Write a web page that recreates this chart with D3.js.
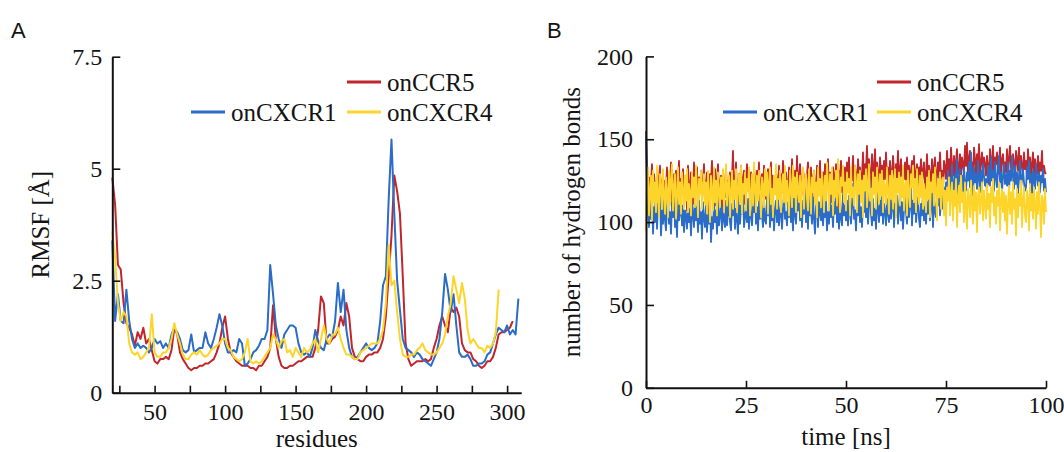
<!DOCTYPE html>
<html><head><meta charset="utf-8">
<script src="https://cdn.jsdelivr.net/npm/d3@7"></script>
<style>
body{margin:0;background:#fff}
svg{display:block}
text{font-family:"Liberation Serif","DejaVu Serif","Noto Serif","Times New Roman",serif;fill:#141414}
</style>
</head><body>
<svg id="c" width="1064" height="452"></svg>
<script>
const SERIF = '"Liberation Serif","DejaVu Serif","Noto Serif","Times New Roman",serif';
// ---------- Panel A: RMSF per residue ----------
const residues = d3.range(20, 309, 2); // 20,22,...,308
const rmsfCCR5 = [
 4.8,4.2,2.85,2.75,2.0,1.55,1.45,1.3,1.05,1.35,
 1.2,1.45,1.1,1.2,0.95,0.7,0.65,0.75,0.75,0.8,
 0.75,0.95,1.45,1.3,0.9,0.75,0.65,0.55,0.5,0.55,
 0.55,0.6,0.6,0.65,0.65,0.7,0.75,0.9,1.1,1.45,
 1.7,1.2,0.9,0.8,0.7,0.65,0.6,0.6,0.6,0.55,
 0.55,0.5,0.6,0.6,0.7,0.8,1.0,1.95,1.2,0.8,
 0.6,0.55,0.55,0.6,0.6,0.65,0.7,0.7,0.75,0.8,
 0.8,0.8,1.0,1.4,2.15,2.0,1.1,1.1,1.2,1.25,
 1.4,1.7,1.5,2.0,1.7,1.0,0.8,0.75,0.7,0.7,
 0.8,0.85,0.85,0.9,0.9,1.0,1.2,1.7,2.6,3.5,
 4.85,4.5,4.0,2.6,1.1,0.75,0.6,0.65,0.7,0.7,
 0.7,0.75,0.7,0.75,1.0,1.2,1.5,1.7,1.5,1.35,
 1.9,1.8,1.9,1.7,1.1,0.95,0.9,0.9,0.75,0.7,
 0.6,0.55,0.6,0.7,0.7,0.8,1.0,1.3,1.35,1.35,
 1.4,1.45,1.6,null,null];
const rmsfCXCR1 = [
 3.4,1.6,2.2,1.6,1.55,2.3,1.6,1.2,1.0,1.1,
 1.0,1.05,1.0,0.9,1.0,1.2,1.1,1.15,1.0,1.1,
 1.0,1.3,1.45,1.35,1.2,0.95,0.9,0.95,1.3,0.9,
 0.95,1.0,1.0,1.35,1.1,1.0,1.2,1.45,1.75,1.5,
 1.1,0.9,0.9,0.95,0.9,1.2,1.1,0.6,0.65,0.75,
 0.9,0.95,1.05,1.2,1.2,1.4,2.85,2.2,1.5,1.2,
 1.0,1.3,1.4,1.5,1.5,1.45,1.1,0.9,0.85,0.9,
 0.8,1.0,1.4,1.15,1.0,0.95,1.2,1.3,1.25,1.6,
 2.45,1.8,2.3,1.4,1.0,0.8,0.75,0.8,0.9,1.0,
 1.1,1.0,0.95,1.0,1.1,1.6,2.4,2.6,4.3,5.65,
 4.0,2.5,1.85,1.2,1.0,0.95,0.9,0.8,0.9,0.85,
 0.75,0.7,0.65,0.6,0.75,0.9,1.2,1.8,2.65,2.3,
 1.8,2.2,1.5,0.9,0.8,0.8,0.85,0.75,0.6,0.6,
 0.65,0.65,0.7,0.85,0.9,1.1,1.3,1.45,1.4,1.35,
 1.5,1.3,1.4,1.3,2.1];
const rmsfCXCR4 = [
 3.6,3.0,2.0,1.6,1.8,1.7,1.1,0.9,0.85,0.9,
 0.75,0.8,0.9,1.0,1.75,0.9,0.8,0.8,0.9,0.9,
 1.0,1.2,1.55,1.3,1.1,0.85,0.75,0.75,0.85,0.9,
 0.85,0.95,0.85,0.8,0.85,0.95,1.0,1.05,1.1,1.2,
 1.2,1.0,0.95,0.8,0.75,0.7,0.75,0.9,1.2,0.7,
 0.65,0.7,0.65,0.7,0.8,0.9,1.0,1.3,1.2,1.0,
 1.15,1.2,0.9,0.95,0.8,1.0,0.9,0.8,1.0,0.9,
 0.95,1.1,1.2,0.9,1.2,1.5,1.2,1.1,1.3,1.3,
 1.45,1.2,1.0,0.85,0.85,0.8,0.75,0.75,0.9,0.95,
 1.0,1.05,1.1,1.1,1.1,1.2,1.4,2.0,3.3,2.4,
 2.5,1.8,1.2,0.85,0.8,0.8,0.85,0.85,0.95,1.0,
 1.1,0.95,0.9,0.85,0.85,0.9,1.0,1.1,1.3,1.7,
 2.0,2.6,2.3,2.0,2.45,2.1,1.4,1.1,1.2,1.1,
 1.0,1.0,0.9,1.05,1.0,1.1,1.35,2.3,null,null,
 null,null,null,null,null];
const residueTicks = [25,50,75,100,125,150,175,200,225,250,275,300];
const rmsfTicks = [0,2.5,5,7.5];

// ---------- Panel B: hydrogen bonds over time (0.25 ns sampling) ----------
const time = d3.range(0, 100.001, 0.25);
const hbCCR5 = [
 155,132,118,127,109,124,135,112,129,120,106,131,117,126,134,111,122,128,104,125,
 119,133,110,127,122,136,114,108,129,121,131,115,124,137,109,126,118,132,113,123,
 128,107,134,120,116,130,125,111,136,119,122,133,109,127,118,131,114,124,135,112,
 121,130,117,106,129,124,137,113,119,132,110,126,135,116,123,128,108,131,120,115,
 133,118,125,104,130,121,127,143,112,124,136,117,109,129,122,134,115,126,131,111,
 124,135,119,128,113,130,122,108,133,126,117,131,120,136,111,125,129,116,134,121,
 114,127,132,119,125,136,110,128,123,117,131,126,112,134,120,129,118,137,124,115,
 130,122,116,133,127,112,138,121,125,131,119,140,114,128,135,123,117,132,126,120,
 111,129,136,124,118,133,107,126,131,120,115,134,128,122,137,113,125,130,119,135,
 127,121,138,116,130,124,112,133,128,119,135,122,109,131,126,137,118,129,123,133,
 120,136,127,139,117,131,125,140,122,134,129,116,138,126,133,121,128,142,119,135,
 131,146,125,138,129,121,141,133,127,144,124,136,130,119,139,128,134,122,137,126,
 142,125,133,118,137,129,124,140,131,120,135,127,143,122,132,138,117,130,126,136,
 123,139,128,134,119,131,137,125,140,121,129,135,118,133,127,138,124,131,136,120,
 128,141,122,134,130,117,138,126,133,139,121,129,136,124,142,127,131,119,137,133,
 126,143,131,138,122,145,134,128,140,124,137,144,129,133,141,125,139,135,130,146,
 134,148,127,139,143,131,136,124,145,138,129,141,133,147,126,137,142,130,139,135,
 128,140,134,123,144,137,131,146,127,139,135,142,129,133,145,126,138,141,132,136,
 130,144,125,139,146,133,128,141,136,124,143,138,131,145,127,140,134,129,142,132,
 137,126,144,131,139,128,135,142,124,138,133,129,140,127,136,131,143,125,134,130,
 129];
const hbCXCR1 = [
 152,121,105,97,114,102,118,93,109,100,122,96,111,104,116,92,107,99,113,101,
 95,110,117,99,106,93,112,103,119,97,108,91,114,101,105,116,98,110,94,107,
 103,96,115,100,108,92,111,104,97,118,101,109,94,113,99,106,90,112,102,97,
 110,94,105,99,116,88,103,96,112,100,107,93,115,98,104,111,95,109,101,97,
 113,98,106,121,100,95,111,104,117,96,108,102,93,114,99,110,105,119,97,103,
 108,100,114,96,120,103,98,111,106,117,99,109,95,113,102,118,104,97,112,101,
 99,115,104,122,97,110,101,116,95,107,113,100,119,98,105,111,96,108,117,102,
 106,98,112,103,121,100,109,95,117,104,99,114,107,124,101,110,97,113,105,118,
 100,111,96,120,104,107,99,115,102,93,109,118,97,112,105,101,116,98,108,103,
 114,95,106,99,119,103,110,97,112,105,121,100,108,96,115,102,98,117,104,110,
 101,113,98,116,106,99,111,123,102,107,95,114,104,118,100,109,97,112,106,120,
 103,117,99,110,125,105,98,114,101,108,96,119,107,100,113,104,121,99,111,106,
 98,114,105,100,118,102,109,124,97,111,104,116,99,107,120,101,112,96,108,115,
 106,99,117,103,110,122,98,113,105,126,100,108,115,102,97,111,104,119,101,109,
 99,112,105,118,101,109,123,97,114,106,103,117,110,128,104,115,119,108,121,112,
 124,116,131,120,127,113,135,122,118,129,125,138,117,126,132,121,128,114,133,123,
 119,130,125,136,121,142,127,116,133,124,129,120,137,126,118,131,123,135,128,122,
 126,117,134,129,122,139,125,131,119,136,127,121,133,140,124,130,118,128,135,123,
 129,122,136,118,131,125,140,127,120,134,123,130,117,128,137,121,126,132,124,119,
 121,133,126,137,123,129,116,131,125,120,135,127,122,130,118,128,124,132,119,126,
 118];
const hbCXCR4 = [
 95,126,133,104,119,128,101,131,112,124,106,134,117,103,129,121,108,132,115,105,
 127,118,103,131,110,125,135,107,120,129,102,116,133,111,124,105,130,119,108,128,
 113,132,106,123,118,104,130,115,127,109,134,120,103,126,117,131,108,122,129,111,
 124,105,131,116,100,128,119,107,133,112,125,104,130,118,109,127,114,132,106,121,
 135,110,122,128,103,117,131,108,125,114,132,106,120,129,111,134,105,123,117,130,
 107,126,119,133,104,115,129,110,136,121,106,128,113,131,118,103,127,122,109,132,
 116,130,105,124,133,111,120,103,128,117,135,108,126,114,131,106,122,129,112,134,
 110,125,118,104,131,121,109,134,115,127,106,130,119,112,128,103,124,133,108,126,
 129,114,107,132,120,105,127,118,131,111,124,103,133,116,126,109,130,121,106,128,
 113,136,122,107,129,117,133,104,125,115,131,110,138,119,106,127,122,134,112,124,
 107,130,118,126,104,133,115,121,110,134,124,106,129,117,131,112,125,103,128,119,
 132,109,124,135,113,120,104,130,117,127,108,133,122,111,129,116,131,106,125,121,
 111,133,119,105,128,114,131,108,124,132,103,126,118,130,110,127,115,134,107,122,
 125,104,131,117,109,129,121,134,112,126,106,132,119,111,128,115,130,108,123,118,
 106,127,114,131,103,124,118,129,110,133,120,101,126,115,130,108,122,127,104,119,
 98,121,113,127,104,117,124,101,119,110,126,97,115,122,106,128,112,118,100,124,
 109,96,120,114,103,125,111,99,122,107,118,94,116,121,105,113,124,101,119,110,
 102,123,108,117,97,121,112,126,104,115,99,119,110,124,95,113,120,106,118,101,
 116,93,111,122,105,118,99,124,108,114,92,120,103,117,110,125,97,112,121,104,
 100,119,114,95,123,107,117,102,121,111,96,118,105,124,109,91,116,113,99,120,
 106];
const timeTicks = [0,25,50,75,100];
const hbTicks = [0,50,100,150,200];

const seriesNames = ["onCCR5","onCXCR1","onCXCR4"];
const seriesColors = ["#c0262c","#2b6cc8","#fdd52a"];

const svg = d3.select("#c");

function drawPanel(cfg){
  const g = svg.append("g");
  const x = d3.scaleLinear().domain(cfg.xDomain).range(cfg.xRange);
  const y = d3.scaleLinear().domain(cfg.yDomain).range(cfg.yRange);
  cfg.series.forEach((vals, i) => {
    const pts = cfg.xs.map((xv, k) => ({x: xv, v: vals[k]}));
    g.append("path")
      .datum(pts)
      .attr("fill","none")
      .attr("stroke", seriesColors[i])
      .attr("stroke-width", cfg.lw)
      .attr("stroke-linejoin","round")
      .attr("d", d3.line().defined(d => d.v != null).x(d => x(d.x)).y(d => y(d.v)));
  });
  const xa = d3.axisBottom(x).tickValues(cfg.xTicks).tickSizeInner(-7).tickSizeOuter(0)
    .tickPadding(cfg.xPad).tickFormat(cfg.xFmt);
  const ya = d3.axisLeft(y).tickValues(cfg.yTicks).tickSizeInner(-8).tickSizeOuter(0)
    .tickPadding(cfg.yPad).tickFormat(d => String(d));
  const gx = g.append("g").attr("transform", `translate(0,${cfg.yRange[0]})`).call(xa);
  const gy = g.append("g").attr("transform", `translate(${cfg.xRange[0]},0)`).call(ya);
  [gx, gy].forEach(a => {
    a.attr("font-family", SERIF);
    a.select(".domain").attr("stroke","#111").attr("stroke-width",2);
    a.selectAll(".tick line").attr("stroke","#111").attr("stroke-width",1.6);
    a.selectAll(".tick text").style("font-family", SERIF)
      .attr("font-size",24).attr("fill","#141414");
  });
  g.append("text").attr("x", (cfg.xRange[0]+cfg.xRange[1])/2).attr("y", cfg.xTitleY)
    .attr("text-anchor","middle").attr("font-size",25).style("font-family", SERIF).text(cfg.xTitle);
  g.append("text")
    .attr("transform", `translate(${cfg.yTitleX},${(cfg.yRange[0]+cfg.yRange[1])/2}) rotate(-90)`)
    .attr("text-anchor","middle").attr("font-size",25).style("font-family", SERIF).text(cfg.yTitle);
  g.append("text").attr("x", cfg.letterX).attr("y", 38)
    .attr("font-size",22)
    .style("font-family",'"Liberation Sans",Arial,sans-serif')
    .text(cfg.letter);
  cfg.legend.forEach(l => {
    g.append("line").attr("x1", l.x).attr("x2", l.x + 34).attr("y1", l.y).attr("y2", l.y)
      .attr("stroke", seriesColors[l.i]).attr("stroke-width", 3);
    g.append("text").attr("x", l.x + 40).attr("y", l.y + 8.5).attr("font-size",25)
      .style("font-family", SERIF).text(seriesNames[l.i]);
  });
}

drawPanel({
  xs: residues, series: [rmsfCCR5, rmsfCXCR1, rmsfCXCR4],
  xDomain: [20, 310], xRange: [112.3, 521.2],
  yDomain: [0, 7.5], yRange: [392.7, 56.7],
  xTicks: residueTicks, yTicks: rmsfTicks,
  xFmt: d => (d % 50 === 0 ? String(d) : ""),
  xPad: 10, yPad: 10, lw: 2,
  xTitle: "residues", xTitleY: 447,
  yTitle: "RMSF [Å]", yTitleX: 49,
  letter: "A", letterX: 11,
  legend: [{i:0, x:347, y:82}, {i:1, x:191, y:112}, {i:2, x:347, y:112}]
});

drawPanel({
  xs: time, series: [hbCCR5, hbCXCR1, hbCXCR4],
  xDomain: [0, 100], xRange: [646, 1046],
  yDomain: [0, 200], yRange: [387.8, 56.4],
  xTicks: timeTicks, yTicks: hbTicks,
  xFmt: d => String(d),
  xPad: 8, yPad: 13, lw: 1.8,
  xTitle: "time [ns]", xTitleY: 445,
  yTitle: "number of hydrogen bonds", yTitleX: 580,
  letter: "B", letterX: 547,
  legend: [{i:0, x:877, y:82}, {i:1, x:723, y:112}, {i:2, x:877, y:112}]
});
</script>
</body></html>
